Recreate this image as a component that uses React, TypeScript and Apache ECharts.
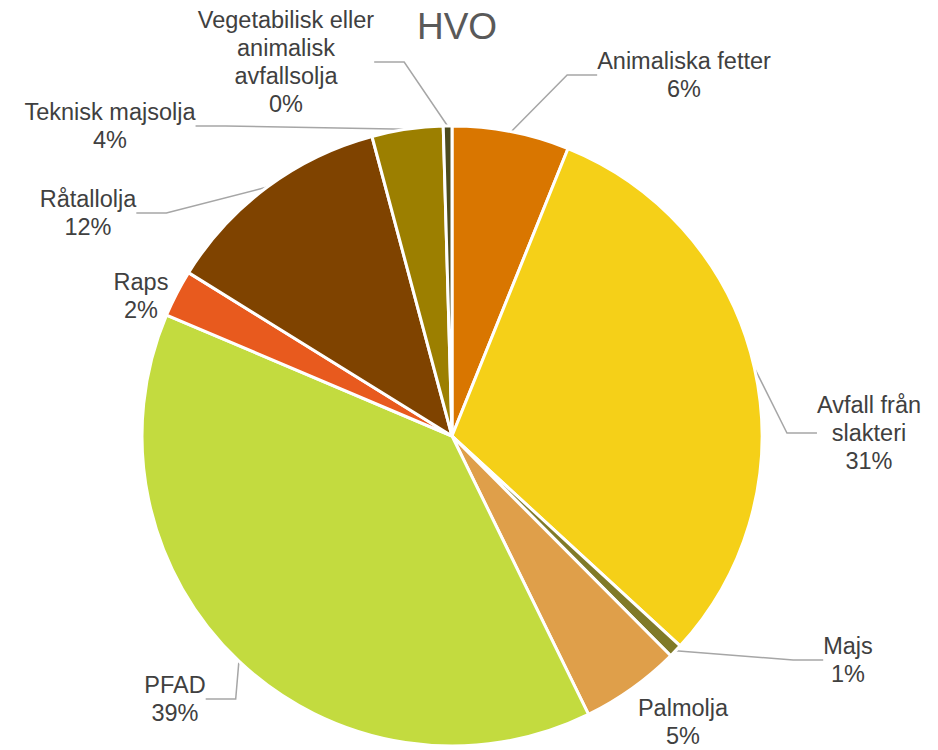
import React, { useEffect, useRef } from "react";
import * as echarts from "echarts";

const TITLE = "HVO";
const categories = [
  "Animaliska fetter",
  "Avfall från\nslakteri",
  "Majs",
  "Palmolja",
  "PFAD",
  "Raps",
  "Råtallolja",
  "Teknisk majsolja",
  "Vegetabilisk eller\nanimalisk\navfallsolja",
];
const values = [6.1, 30.7, 0.7, 5.2, 38.6, 2.45, 12.0, 3.7, 0.45];
const colors = [
  "#D97600",
  "#F5D018",
  "#807A28",
  "#DF9F4A",
  "#C3DB3F",
  "#E85A1E",
  "#7F4300",
  "#9C7F00",
  "#4B4A1E",
];

// label anchor points (layout only)
const LABEL_POS: [number, number][] = [
  [684, 75],
  [869, 433],
  [848, 660],
  [683, 722],
  [175, 699],
  [141, 296],
  [88, 213],
  [110, 126],
  [286, 62],
];
const NO_LINE = [3, 5];

export default function App() {
  const ref = useRef<HTMLDivElement>(null);
  useEffect(() => {
    document.body.style.margin = "0";
    if (!ref.current) return;
    const chart = echarts.init(ref.current, null, { renderer: "svg" });
    const total = values.reduce((a, b) => a + b, 0);
    chart.setOption({
      animation: false,
      backgroundColor: "#ffffff",
      title: {
        text: TITLE,
        left: 452,
        textAlign: "center",
        top: 3,
        textStyle: {
          fontFamily: "Liberation Sans, Arial, sans-serif",
          fontSize: 37,
          fontWeight: "normal",
          color: "#595959",
        },
      },
      series: [
        {
          type: "pie",
          center: [452, 436],
          radius: [0, 310],
          startAngle: 90,
          clockwise: true,
          avoidLabelOverlap: false,
          data: categories.map((name, i) => ({
            name,
            value: values[i],
            itemStyle: { color: colors[i] },
            labelLine: { show: !NO_LINE.includes(i) },
          })),
          itemStyle: { borderColor: "#ffffff", borderWidth: 3 },
          label: {
            show: true,
            position: "outside",
            formatter: (p: any) =>
              `${p.name}\n${Math.round((p.value / total) * 100)}%`,
            fontFamily: "Liberation Sans, Arial, sans-serif",
            fontSize: 23.5,
            lineHeight: 28,
            color: "#404040",
            align: "center",
          },
          labelLine: {
            show: true,
            lineStyle: { color: "#A6A6A6", width: 1.5 },
          },
          labelLayout: (params: any) => {
            const p = LABEL_POS[params.dataIndex];
            return {
              x: p[0],
              y: p[1],
              align: "center",
              verticalAlign: "middle",
            };
          },
          emphasis: { disabled: true },
        },
      ],
    });
    return () => chart.dispose();
  }, []);
  return <div ref={ref} style={{ width: 938, height: 750 }} />;
}
